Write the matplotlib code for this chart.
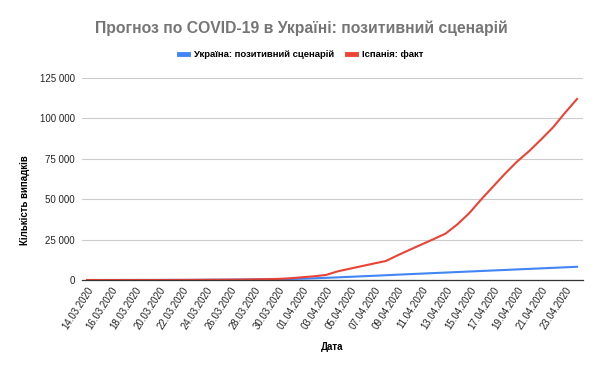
import matplotlib
matplotlib.use('Agg')
import matplotlib.pyplot as plt
from matplotlib.ticker import FuncFormatter

plt.rcParams['font.family'] = ['Liberation Sans', 'DejaVu Sans']

# dates 14.03.2020 .. 24.04.2020
dates = ['14.03.2020', '15.03.2020', '16.03.2020', '17.03.2020', '18.03.2020', '19.03.2020',
         '20.03.2020', '21.03.2020', '22.03.2020', '23.03.2020', '24.03.2020', '25.03.2020',
         '26.03.2020', '27.03.2020', '28.03.2020', '29.03.2020', '30.03.2020', '31.03.2020',
         '01.04.2020', '02.04.2020', '03.04.2020', '04.04.2020', '05.04.2020', '06.04.2020',
         '07.04.2020', '08.04.2020', '09.04.2020', '10.04.2020', '11.04.2020', '12.04.2020',
         '13.04.2020', '14.04.2020', '15.04.2020', '16.04.2020', '17.04.2020', '18.04.2020',
         '19.04.2020', '20.04.2020', '21.04.2020', '22.04.2020', '23.04.2020', '24.04.2020']

ukraine = [3, 3, 7, 14, 16, 26, 47, 73, 84, 97, 145, 196, 218, 311, 356, 475, 548, 645,
           804, 1050, 1350, 1650, 1950, 2300, 2600, 2950, 3300, 3630, 3950, 4280, 4600, 4930,
           5250, 5580, 5900, 6230, 6550, 6880, 7200, 7530, 7850, 8180]

spain = [2, 2, 2, 3, 6, 13, 15, 32, 45, 84, 120, 165, 222, 259, 400, 500, 673, 1073,
         1695, 2277, 3146, 5400, 7000, 8600, 10200, 11750, 15300, 18700, 22000, 25300, 28700, 34500,
         41500, 50000, 58000, 66000, 73400, 79800, 87000, 94500, 103500, 112000]

fig = plt.figure(figsize=(6.02, 3.71), dpi=100)
ax = fig.add_axes([82 / 602, 1 - 280 / 371, (583 - 82) / 602, (280 - 78) / 371])

x = range(len(dates))
ax.plot(x, ukraine, color='#4285F4', lw=1.5, label='Україна: позитивний сценарій')
ax.plot(x, spain, color='#EA4335', lw=1.5, label='Іспанія: факт')

ax.set_xlim(-0.42, 41.5)
ax.set_ylim(0, 125000)
ax.set_yticks([0, 25000, 50000, 75000, 100000, 125000])
ax.yaxis.set_major_formatter(FuncFormatter(lambda v, p: '{:,}'.format(int(v)).replace(',', ' ')))
ax.set_xticks(list(x)[::2])
ax.set_xticklabels(dates[::2], rotation=57, ha='right', rotation_mode='anchor')
ax.tick_params(axis='both', length=0, labelsize=7, labelcolor='#222222')
ax.tick_params(axis='x', pad=3.5)
ax.tick_params(axis='y', pad=5)

ax.grid(axis='y', color='#cccccc', lw=0.8)
ax.set_axisbelow(True)
for s in ['top', 'right', 'left']:
    ax.spines[s].set_visible(False)
ax.spines['bottom'].set_color('#333333')
ax.spines['bottom'].set_linewidth(0.9)

fig.text(301 / 602, 1 - 28.5 / 371, 'Прогноз по COVID-19 в Україні: позитивний сценарій',
         ha='center', va='center', fontsize=11.3, fontweight='bold', color='#757575')
fig.text(332 / 602, 1 - 347 / 371, 'Дата', ha='center', va='center', fontsize=7, fontweight='bold')
fig.text(25 / 602, 1 - 200 / 371, 'Кількість випадків', ha='center', va='center', rotation=90,
         fontsize=7, fontweight='bold')

leg = fig.legend(loc='center', bbox_to_anchor=(301 / 602, 1 - 54.5 / 371), ncol=2, frameon=False,
                 prop={'size': 6.8, 'weight': 'bold'}, handlelength=0.95, columnspacing=1.4,
                 handletextpad=0.65)
for h in leg.legend_handles:
    h.set_linewidth(3.5)

fig.savefig('out.png', dpi=100)
